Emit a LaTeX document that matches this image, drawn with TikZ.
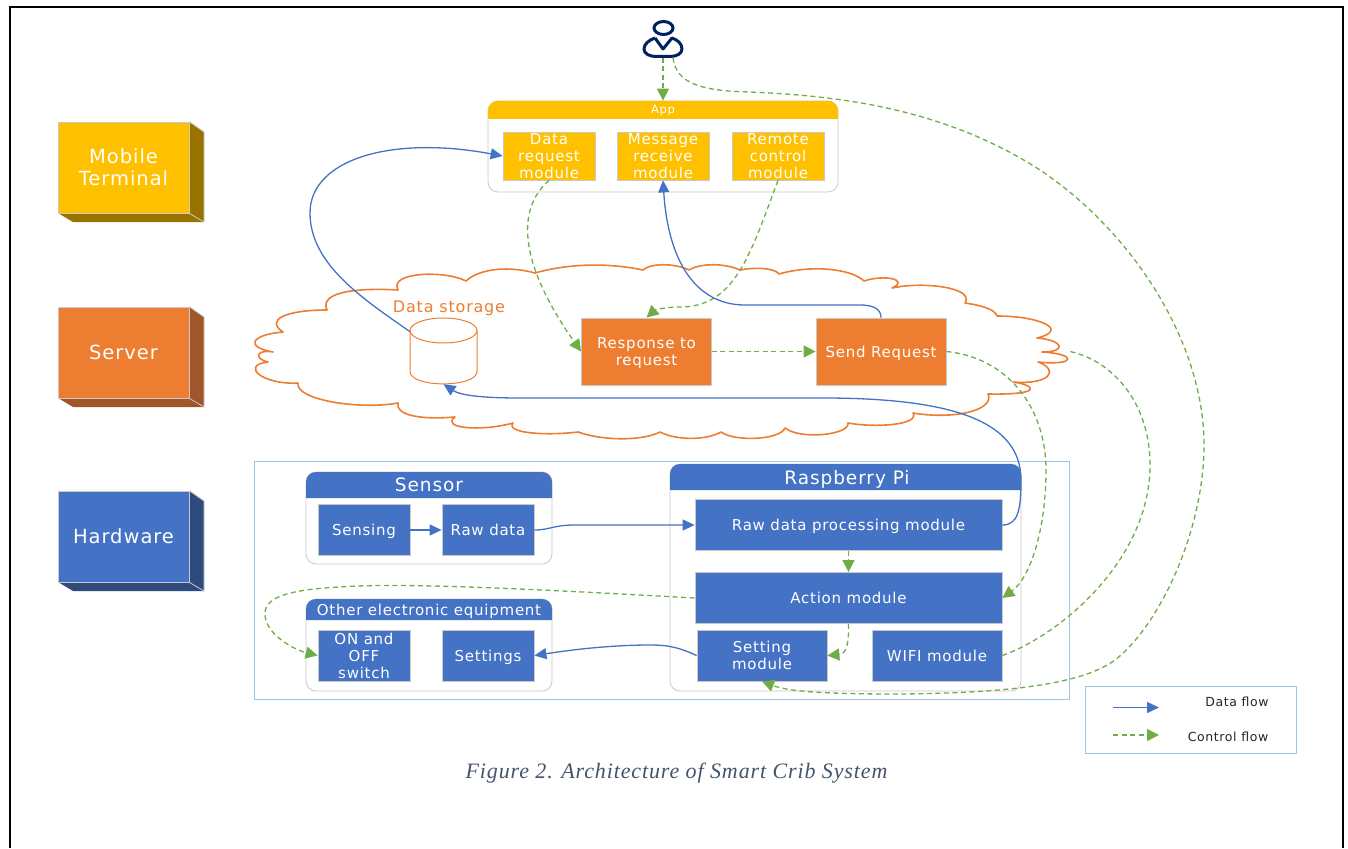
\documentclass[tikz,border=0pt]{standalone}
\usepackage{fontspec}
\setmainfont[LetterSpace=5]{DejaVu Sans}
\newfontfamily\captionfont[LetterSpace=4]{Liberation Serif}
\usetikzlibrary{arrows.meta}
\definecolor{yellowfill}{HTML}{FFC000}
\definecolor{yellowdark}{HTML}{997300}
\definecolor{orangefill}{HTML}{ED7D31}
\definecolor{orangedark}{HTML}{A0562A}
\definecolor{bluefill}{HTML}{4472C4}
\definecolor{bluedark}{HTML}{2F4B7E}
\definecolor{greenline}{HTML}{70AD47}
\definecolor{frameblue}{HTML}{9DC3E6}
\definecolor{edgegrey}{HTML}{C9C9C9}
\definecolor{navyicon}{HTML}{002060}
\definecolor{captiongrey}{HTML}{44546A}
\tikzset{
    box/.style={draw=edgegrey, line width=0.8pt, text=white, align=center, inner sep=0pt},
    yellowbox/.style={box, fill=yellowfill, minimum width=92, minimum height=48, font=\fontsize{15}{17}\selectfont},
    orangebox/.style={box, fill=orangefill, minimum width=130, minimum height=67, font=\fontsize{15}{17}\selectfont},
    bluebox/.style={box, fill=bluefill, minimum height=51, font=\fontsize{15}{17}\selectfont},
    panel/.style={draw=edgegrey, line width=0.8pt, fill=white, rounded corners=10, inner sep=0pt},
    headtext/.style={text=white, inner sep=0pt, font=\fontsize{#1}{#1}\selectfont},
    lowtext/.style={text depth=0pt},
    sidetext/.style={box, minimum width=131, minimum height=91, font=\fontsize{19.5}{22}\selectfont},
    dataflow/.style={draw=bluefill, line width=1.3pt, -{Triangle[length=12,width=11]}},
    controlflow/.style={draw=greenline, line width=1.3pt, dash pattern=on 5pt off 3.5pt, -{Triangle[length=12,width=12]}},
    cloudline/.style={draw=orangefill, line width=1.6pt, line join=round},
    legendtext/.style={text=black!85, inner sep=0pt, font=\fontsize{12.5}{14}\selectfont}
}
\begin{document}
\begin{tikzpicture}[x=1pt,y=-1pt]
    \useasboundingbox (0,0) rectangle (1348,848);
    \draw[black, line width=2pt] (10,848) -- (10,7) -- (1343,7) -- (1343,848);

    \foreach \top/\main/\dark/\name/\label in {122/yellowfill/yellowdark/mobile/{Mobile\\Terminal},307/orangefill/orangedark/server/Server,491/bluefill/bluedark/hardware/Hardware}{
        \fill[\dark] (189,\top) -- (204,\top+10) -- (204,\top+100) -- (73,\top+100) -- (58,\top+91) -- cycle;
        \node[sidetext, fill=\main] (\name) at (123.5,\top+45.5) {\label};
        \draw[edgegrey, line width=0.8pt] (\name.south east) -- (204,\top+100) -- (204,\top+10) -- (\name.north east);
    }

    \node[inner sep=0pt, minimum width=40, minimum height=21] (user) at (663,47) {};
    \draw[navyicon, line width=3pt] (663.5,28) ellipse (9.5 and 6.5);
    \draw[navyicon, line width=3pt, line join=round] (655,38) -- (663,49) -- (672,38) .. controls (678,40) and (682,44) .. (682,49) .. controls (682,54) and (676,56.5) .. (670,56.5) -- (656,56.5) .. controls (650,56.5) and (644,54) .. (644,49) .. controls (644,44) and (649,40) .. (655,38);

    \node[panel, minimum width=350, minimum height=91] (app) at (663,146.5) {};
    \fill[yellowfill, rounded corners=10] (488,119) -- (488,101) -- (838,101) [sharp corners] -- (838,119) -- cycle;
    \node[headtext=11.5] (apphead) at (663,111) {App};
    \node[yellowbox] (datareq) at (549,156) {Data\\request\\module};
    \node[yellowbox] (msgrec) at (663,156) {Message\\receive\\module};
    \node[yellowbox] (remote) at (778,156) {Remote\\control\\module};

    \draw[cloudline] (298,383) .. controls (262,385) and (240,365) .. (268,362)
        .. controls (252,358) and (258,349) .. (273,352)
        .. controls (245,347) and (250,335) .. (283,332)
        .. controls (265,320) and (285,310) .. (327,310)
        .. controls (318,290) and (365,288) .. (398,290)
        .. controls (388,272) and (445,270) .. (466,281)
        .. controls (480,268) and (510,266) .. (535,273)
        .. controls (570,263) and (610,263) .. (643,270)
        .. controls (650,263) and (675,263) .. (689,270)
        .. controls (700,263) and (725,263) .. (740,270)
        .. controls (755,267) and (775,268) .. (779,274)
        .. controls (810,265) and (850,268) .. (864,281)
        .. controls (885,274) and (910,280) .. (892,288)
        .. controls (925,281) and (975,288) .. (965,303)
        .. controls (985,306) and (995,310) .. (997,316)
        .. controls (1040,316) and (1070,330) .. (1037,338)
        .. controls (1063,340) and (1068,352) .. (1042,352)
        .. controls (1078,354) and (1076,366) .. (1038,362)
        .. controls (1060,370) and (1050,385) .. (1013,382)
        .. controls (1035,385) and (1045,395) .. (988,394)
        .. controls (995,410) and (955,420) .. (913,413)
        .. controls (920,425) and (875,428) .. (848,423)
        .. controls (850,435) and (800,440) .. (785,428)
        .. controls (780,440) and (735,442) .. (721,432)
        .. controls (705,441) and (675,440) .. (660,432)
        .. controls (640,442) and (600,440) .. (578,432)
        .. controls (545,436) and (505,433) .. (513,423)
        .. controls (480,432) and (440,428) .. (455,417)
        .. controls (420,420) and (395,415) .. (398,403)
        .. controls (360,410) and (295,400) .. (298,383);

    \node[text=orangefill, inner sep=0pt, lowtext, font=\fontsize{16}{17}\selectfont] (storelabel) at (449,307) {Data storage};
    \node[inner sep=0pt, minimum width=67, minimum height=66] (store) at (443.5,351) {};
    \draw[orangefill, line width=1pt] (443.5,330.5) ellipse (33.5 and 12.5);
    \draw[orangefill, line width=1pt] (410,330.5) -- (410,371.5) .. controls (410,388) and (477,388) .. (477,371.5) -- (477,330.5);
    \node[orangebox, lowtext] (response) at (646.5,351.5) {Response to\\request};
    \node[orangebox, lowtext] (send) at (881,351.5) {Send Request};

    \draw[frameblue, line width=0.9pt] (254,461) rectangle (1069,699);
    \coordinate (cloudend) at (1070,351.5);

    \node[panel, minimum width=246, minimum height=92] (sensor) at (429,518) {};
    \fill[bluefill, rounded corners=10] (306,498) -- (306,472) -- (552,472) [sharp corners] -- (552,498) -- cycle;
    \node[headtext=18.5] (sensorhead) at (429,485) {Sensor};
    \node[bluebox, lowtext, minimum width=92] (sensing) at (364,530) {Sensing};
    \node[bluebox, minimum width=92] (rawdata) at (488,530) {Raw data};

    \node[panel, minimum width=246, minimum height=92] (other) at (429,645) {};
    \fill[bluefill, rounded corners=10] (306,620) -- (306,599) -- (552,599) [sharp corners] -- (552,620) -- cycle;
    \node[headtext=15, lowtext] (otherhead) at (429,610) {Other electronic equipment};
    \node[bluebox, minimum width=92] (onoff) at (364,655.5) {ON and\\OFF\\switch};
    \node[bluebox, lowtext, minimum width=92] (settings) at (488,655.5) {Settings};

    \node[panel, minimum width=351, minimum height=227] (raspi) at (845.5,577.5) {};
    \fill[bluefill, rounded corners=10] (670,490) -- (670,464) -- (1021,464) [sharp corners] -- (1021,490) -- cycle;
    \node[headtext=18.5, lowtext] (raspihead) at (847,477) {Raspberry Pi};
    \node[bluebox, lowtext, minimum width=307] (rawproc) at (848.5,525) {Raw data processing module};
    \node[bluebox, minimum width=307] (action) at (848.5,598) {Action module};
    \node[bluebox, minimum width=130] (setting) at (762,655.5) {Setting\\module};
    \node[bluebox, minimum width=130] (wifi) at (937,655.5) {WIFI module};

    \draw[controlflow] (user.south) -- (app.north);
    \draw[controlflow] (user.south)+(10,0) .. controls (676,85) and (705,91) .. (750,92) .. controls (850,96) and (950,112) .. (1040,170) .. controls (1130,230) and (1204,340) .. (1204,445) .. controls (1204,530) and (1160,625) .. (1115,660) .. controls (1085,682) and (1020,693) .. (900,694) .. controls (830,694) and (790,692) .. (setting.south);
    \draw[dataflow] (store.150) .. controls (365,300) and (310,265) .. (310,213) .. controls (310,160) and (390,135) .. (datareq.west);
    \draw[controlflow] (datareq.south) .. controls (515,210) and (520,265) .. (response.west);
    \draw[controlflow] (remote.south) .. controls (750,255) and (735,307) .. (680,307) .. controls (665,307) and (655,310) .. (response.north);
    \draw[dataflow] (send.north) .. controls (881,310) and (875,305) .. (860,305) -- (745,305) .. controls (695,305) and (668,260) .. (msgrec.south);
    \draw[controlflow] (response.east) -- (send.west);
    \draw[controlflow] (send.east) .. controls (1010,358) and (1046,410) .. (1046,470) .. controls (1046,530) and (1030,578) .. (action.east);
    \draw[dataflow] (rawproc.east) .. controls (1018,525) and (1021,510) .. (1021,480) .. controls (1021,420) and (950,399) .. (830,398) -- (520,398) .. controls (480,398) and (460,395) .. (store.south);
    \draw[dataflow] (rawdata.east) .. controls (550,530) and (553,525) .. (575,525) -- (rawproc.west);
    \draw[dataflow] (sensing.east) -- (rawdata.west);
    \draw[controlflow] (rawproc.south) -- (action.north);
    \draw[controlflow] (action.south) .. controls (849,645) and (846,654) .. (setting.east);
    \draw[controlflow] (action.west) .. controls (550,590) and (400,582) .. (340,587) .. controls (280,590) and (264,600) .. (265,615) .. controls (266,635) and (295,650) .. (onoff.west);
    \draw[dataflow] (setting.west) .. controls (680,648) and (670,645) .. (650,645) .. controls (610,645) and (570,650) .. (settings.east);
    \draw[controlflow, arrows=-] (wifi.east) .. controls (1060,635) and (1150,560) .. (1150,465) .. controls (1150,400) and (1110,360) .. (cloudend);

    \node[draw=frameblue, line width=0.9pt, minimum width=211, minimum height=66.5, inner sep=0pt] (legend) at (1190.5,720) {};
    \coordinate (datafrom) at (1113,707.5);
    \coordinate (datato) at (1159,707.5);
    \coordinate (controlfrom) at (1113,735);
    \coordinate (controlto) at (1159,735);
    \draw[dataflow] (datafrom) -- (datato);
    \draw[controlflow] (controlfrom) -- (controlto);
    \node[legendtext] (datatext) at (1237,701.5) {Data flow};
    \node[legendtext] (controltext) at (1228,736.5) {Control flow};

    \node[text=captiongrey, inner sep=0pt, font=\captionfont\itshape\fontsize{22}{24}\selectfont] (caption) at (676.5,773) {Figure 2. Architecture of Smart Crib System};
\end{tikzpicture}
\end{document}
